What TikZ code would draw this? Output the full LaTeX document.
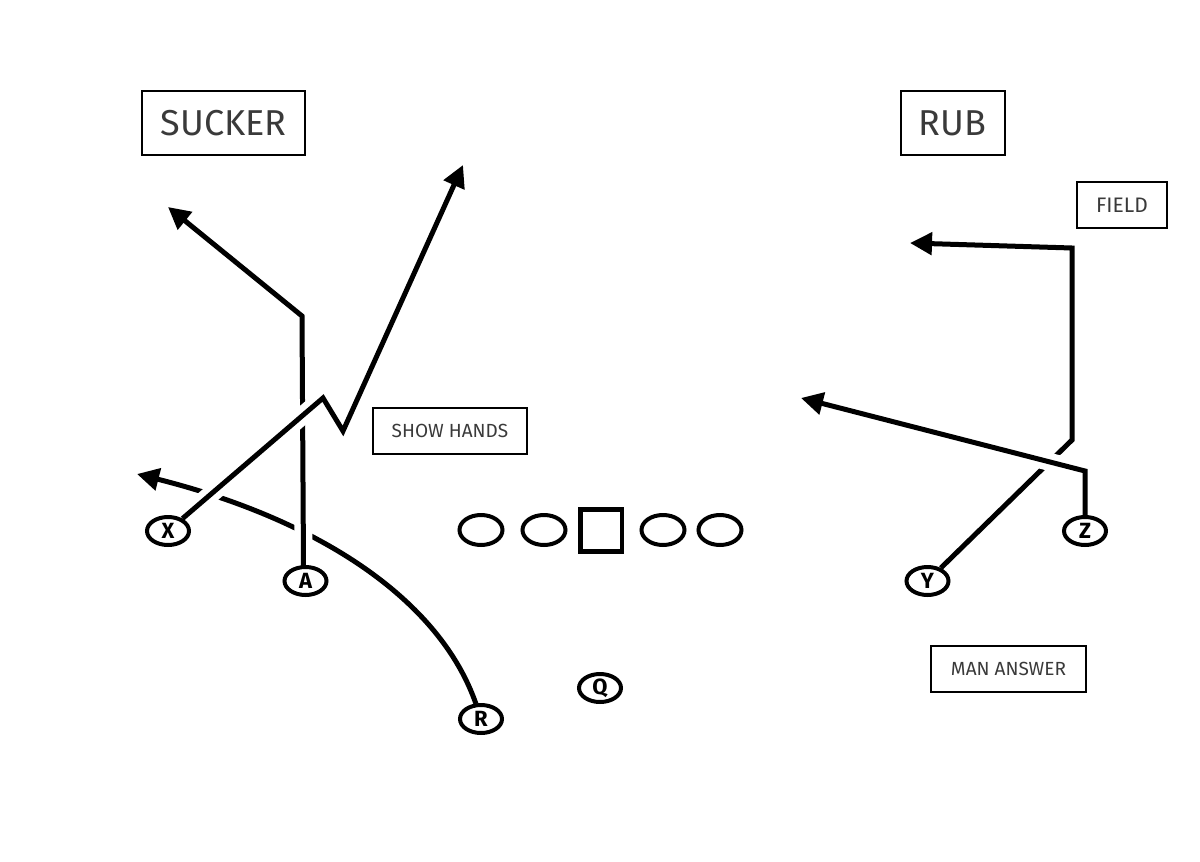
\documentclass[tikz,border=0pt]{standalone}
\usepackage{fontspec}
\setmainfont{Fira Sans}
\usetikzlibrary{arrows.meta,shapes.geometric}
\definecolor{txt}{HTML}{3A3A3A}
\tikzset{
  labelbox/.style={draw=black, line width=1pt, text=txt, inner sep=0pt, align=center},
  titlebox/.style={labelbox, minimum height=32pt, font=\fontsize{18}{21}\selectfont},
  notebox/.style={labelbox, minimum height=23pt, font=\fontsize{9.5}{11}\selectfont},
  player/.style={draw=black, ellipse, line width=2pt, minimum width=21pt, minimum height=14pt, inner sep=0pt, font=\fontsize{11}{12}\bfseries},
  lineman/.style={draw=black, ellipse, line width=2pt, minimum width=21.5pt, minimum height=15pt, inner sep=0pt},
  center/.style={draw=black, rectangle, line width=2.25pt, minimum width=20.75pt, minimum height=21pt, inner sep=0pt},
  route/.style={draw=black, line width=2.5pt, -{Triangle[length=11pt,width=11pt]}},
  halo/.style={draw=white, line width=9pt, line join=round, shorten <=5pt, shorten >=8pt},
}
\begin{document}
\begin{tikzpicture}[x=0.5pt, y=-0.5pt]
\useasboundingbox (0,0) rectangle (1200,862);

% labels
\node[titlebox, minimum width=81.5pt] (sucker) at (223.5,123) {SUCKER};
\node[titlebox, minimum width=52pt] (rub) at (952.5,123) {RUB};
\node[notebox, minimum width=45pt, font=\fontsize{10.5}{12}\selectfont] (field) at (1122,205) {FIELD};
\node[notebox, minimum width=77pt] (show) at (450,431) {SHOW HANDS};
\node[notebox, minimum width=77.5pt] (man) at (1008.5,669) {MAN ANSWER};

% offensive line
\node[lineman] (lt) at (481,530) {};
\node[lineman] (lg) at (544,530) {};
\node[center] (c) at (601,530.5) {};
\node[lineman] (rg) at (663,530) {};
\node[lineman] (rt) at (720,530) {};

% players
\node[player] (X) at (168,531) {X};
\node[player] (A) at (305.5,581) {A};
\node[player] (R) at (481,719) {R};
\node[player] (Q) at (600,688) {Q};
\node[player] (Y) at (927.5,581) {Y};
\node[player] (Z) at (1085,531) {Z};

% route waypoints
\coordinate (r0) at (476,704);
\coordinate (rtip) at (137,474);
\coordinate (a0) at (303.5,566);
\coordinate (a1) at (302,316);
\coordinate (atip) at (168,207);
\coordinate (x1) at (323,398);
\coordinate (x2) at (343,431);
\coordinate (xtip) at (463,165);
\coordinate (y1) at (1072,440);
\coordinate (y2) at (1072,248);
\coordinate (ytip) at (910,243);
\coordinate (z0) at (1085,516);
\coordinate (z1) at (1085,471);
\coordinate (ztip) at (801,398);

% R route (bottom layer)
\draw[route] (r0) .. controls (440,600) and (320,520) .. (rtip);
% A route over R
\draw[halo] (a0) -- (a1) -- (atip);
\draw[route] (a0) -- (a1) -- (atip);
% X route over A and R
\draw[halo] (X) -- (x1) -- (x2) -- (xtip);
\draw[route] (X) -- (x1) -- (x2) -- (xtip);

% Y route
\draw[route] (Y) -- (y1) -- (y2) -- (ytip);
% Z route over Y
\draw[halo] (z0) -- (z1) -- (ztip);
\draw[route] (z0) -- (z1) -- (ztip);
\end{tikzpicture}
\end{document}
